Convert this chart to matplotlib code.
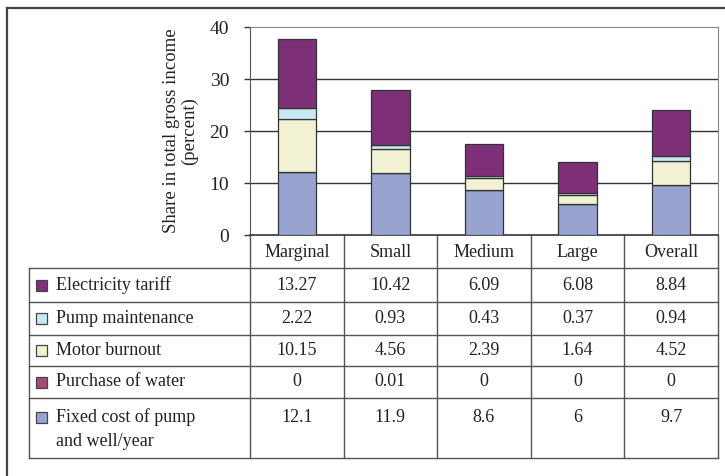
import matplotlib
matplotlib.use("Agg")
import matplotlib.pyplot as plt
from matplotlib.lines import Line2D
from matplotlib.patches import Rectangle
import numpy as np

plt.rcParams['font.family'] = ['Liberation Serif', 'DejaVu Serif']

categories = ["Marginal", "Small", "Medium", "Large", "Overall"]
series_names = ["Electricity tariff", "Pump maintenance", "Motor burnout",
                "Purchase of water", "Fixed cost of pump\nand well/year"]
electricity = [13.27, 10.42, 6.09, 6.08, 8.84]
pump_maint = [2.22, 0.93, 0.43, 0.37, 0.94]
motor = [10.15, 4.56, 2.39, 1.64, 4.52]
water = [0, 0.01, 0, 0, 0]
fixed = [12.1, 11.9, 8.6, 6, 9.7]
value_labels = [
    ["13.27", "10.42", "6.09", "6.08", "8.84"],
    ["2.22", "0.93", "0.43", "0.37", "0.94"],
    ["10.15", "4.56", "2.39", "1.64", "4.52"],
    ["0", "0.01", "0", "0", "0"],
    ["12.1", "11.9", "8.6", "6", "9.7"],
]
colors = ["#7D2F78", "#C8E9F4", "#F3F1D3", "#A24C7A", "#99A3D0"]
yticks = [0, 10, 20, 30, 40]

W, H = 725, 476
fig = plt.figure(figsize=(W / 100, H / 100), dpi=100)

# main axes in pixel coords
L, R, T, B = 250, 718, 27, 235
ax = fig.add_axes([L / W, 1 - B / H, (R - L) / W, (B - T) / H])
x = np.arange(len(categories))
series_vals = [electricity, pump_maint, motor, water, fixed]
# stack from bottom: fixed, water, motor, pump, electricity
bottom = np.zeros(len(categories))
for idx in [4, 3, 2, 1, 0]:
    vals = np.array(series_vals[idx], dtype=float)
    ax.bar(x, vals, 0.41, bottom=bottom, color=colors[idx],
           edgecolor="#333333", linewidth=0.9, zorder=3)
    bottom += vals
ax.set_xlim(-0.5, len(categories) - 0.5)
ax.set_ylim(0, 40)
ax.set_yticks(yticks)
ax.set_yticklabels([str(t) for t in yticks], fontsize=14, color="#222222")
ax.tick_params(axis='y', length=4, width=1, color="#333333", pad=11)
ax.set_xticks([])
for yv in yticks[1:-1]:
    ax.axhline(yv, color="#333333", linewidth=1, zorder=1)
ax.spines['top'].set_color("#888888")
ax.spines['right'].set_color("#888888")
ax.spines['left'].set_color("#555555")
ax.spines['bottom'].set_color("#333333")
ax.spines['bottom'].set_linewidth(1.2)
ax.set_ylabel("Share in total gross income\n(percent)", fontsize=13.5,
              color="#222222", labelpad=8, linespacing=1.1)

# overlay axes for table, pixel coords
ov = fig.add_axes([0, 0, 1, 1], zorder=-1)
ov.set_xlim(0, W)
ov.set_ylim(H, 0)
ov.axis('off')

# outer frame
ov.add_line(Line2D([7, W], [8, 8], color="#444444", lw=1.6))
ov.add_line(Line2D([7, 7], [8, H], color="#444444", lw=1.6))

ncat = len(categories)
colw = (R - L) / ncat
col_edges = [L + i * colw for i in range(ncat + 1)]
tab_left = 29
row_edges = [268, 302, 335, 366, 398, 458]
lc = "#555555"
# header verticals
for xe in col_edges:
    ov.add_line(Line2D([xe, xe], [B, row_edges[-1]], color=lc, lw=1))
ov.add_line(Line2D([tab_left, tab_left], [row_edges[0], row_edges[-1]], color=lc, lw=1))
for ye in row_edges:
    ov.add_line(Line2D([tab_left, R], [ye, ye], color=lc, lw=1))

txtc = "#222222"
for i, c in enumerate(categories):
    ov.text(col_edges[i] + colw / 2, (B + row_edges[0]) / 2 + 1, c, ha='center',
            va='center', fontsize=13, color=txtc)

for r, name in enumerate(series_names):
    top = row_edges[r]
    bot = row_edges[r + 1]
    if r < len(series_names) - 1:
        yc = (top + bot) / 2
    else:
        yc = top + 19
    ov.add_patch(Rectangle((36, yc - 5.5), 11, 11, facecolor=colors[r],
                           edgecolor="#444444", lw=0.9))
    lines = name.split("\n")
    for k, ln in enumerate(lines):
        ov.text(56, yc + k * 24, ln, ha='left', va='center', fontsize=13, color=txtc)
    for i in range(ncat):
        ov.text(col_edges[i] + colw / 2, yc, value_labels[r][i], ha='center',
                va='center', fontsize=13, color=txtc)

fig.savefig("out.png", dpi=100)
